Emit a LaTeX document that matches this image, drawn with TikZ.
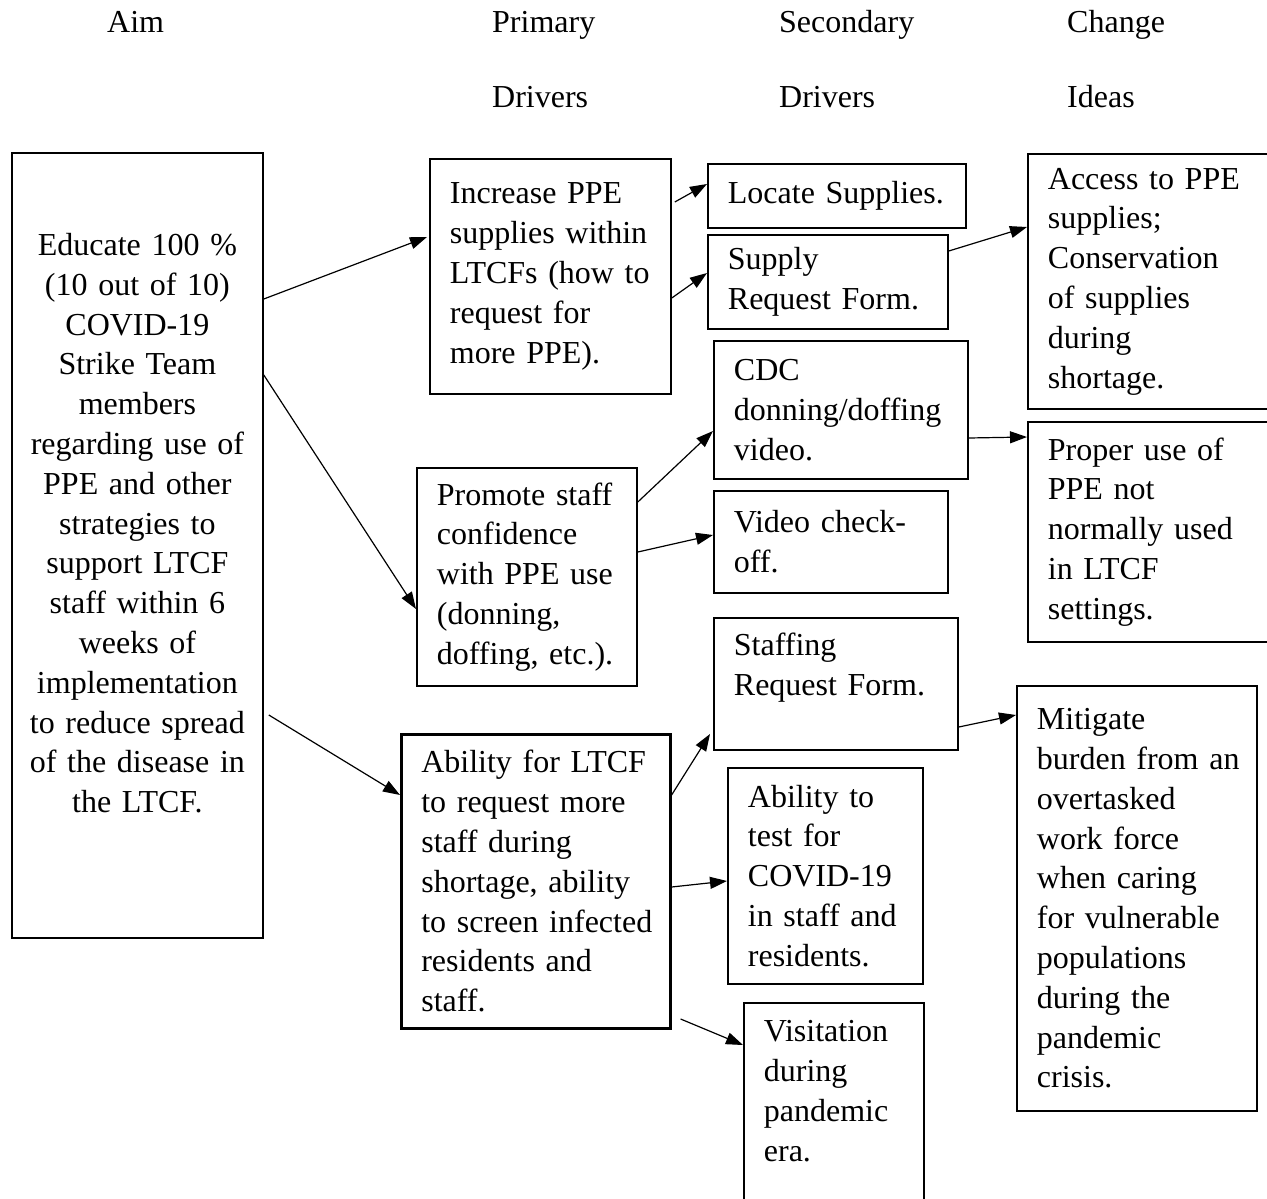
\documentclass[tikz,border=0pt]{standalone}
\usepackage{fontspec}
\setmainfont{Liberation Serif}
\usetikzlibrary{calc,positioning,arrows.meta}

\begin{document}
\begin{tikzpicture}
[x=1pt,y=-1pt,
font=\fontsize{32}{39.8}\selectfont,
head/.style={anchor=base west,inner sep=0pt},
box/.style={draw,line width=1.8pt,rectangle,anchor=north west,
	inner xsep=20pt,inner ysep=0pt,align=left},
arr/.style={-{Triangle[length=17pt,width=12pt]},line width=1.2pt}]

\path[use as bounding box,fill=white] (0,0) rectangle (1267,1199);

% column heads
\node[head] (hAim) at (107,33) {Aim};
\node[head] (hPri) at (492,33) {Primary};
\node[head] (hPriB) at (492,107) {Drivers};
\node[head] (hSec) at (779,33) {Secondary};
\node[head] (hSecB) at (779,107) {Drivers};
\node[head] (hChg) at (1067,33) {Change};
\node[head] (hChgB) at (1067,107) {Ideas};

% aim
\node[box,align=center,inner xsep=8pt,minimum width=251pt,minimum height=785pt,text width=235pt]
	(aim) at (11,152) {Educate 100 \%\\(10 out of 10)\\COVID-19\\Strike Team\\members\\regarding use of\\PPE and other\\strategies to\\support LTCF\\staff within 6\\weeks of\\implementation\\to reduce spread\\of the disease in\\the LTCF.\\[5pt]~};

% primary drivers
\node[box,minimum width=241pt,minimum height=235pt,text width=201pt]
	(incr) at (429,158) {Increase PPE\\supplies within\\LTCFs (how to\\request for\\more PPE).};
\node[box,minimum width=220pt,minimum height=218pt,text width=180pt]
	(promo) at (416,467) {Promote staff\\confidence\\with PPE use\\(donning,\\doffing, etc.).};
\node[box,line width=2.6pt,minimum width=269pt,minimum height=294pt,text width=229pt]
	(abil) at (400,733) {Ability for LTCF\\to request more\\staff during\\shortage, ability\\\mbox{to screen infected}\\residents and\\staff.};

% secondary drivers
\node[box,minimum width=258pt,minimum height=64pt,text width=218pt]
	(locate) at (707,163) {Locate Supplies.};
\node[box,minimum width=240pt,minimum height=94pt,text width=200pt]
	(supply) at (707,234) {Supply\\Request Form.};
\node[box,minimum width=254pt,minimum height=138pt,text width=214pt]
	(cdc) at (713,340) {CDC\\donning/doffing\\video.};
\node[box,minimum width=234pt,minimum height=102pt,text width=194pt]
	(vchk) at (713,490) {Video check-\\off.};
\node[box,minimum width=244pt,minimum height=132pt,text width=204pt]
	(staff) at (713,617) {Staffing\\Request Form.\\~};
\node[box,minimum width=195pt,minimum height=216pt,text width=155pt]
	(test) at (727,767) {Ability to\\test for\\COVID-19\\in staff and\\residents.};
\node[box,minimum width=180pt,minimum height=216pt,text width=140pt]
	(visit) at (743,1002) {Visitation\\during\\pandemic\\era.\\~};

% change ideas
\node[box,minimum width=260pt,minimum height=255pt,text width=220pt]
	(access) at (1027,153) {Access to PPE\\supplies;\\Conservation\\of supplies\\during\\shortage.};
\node[box,minimum width=260pt,minimum height=220pt,text width=220pt]
	(proper) at (1027,421) {Proper use of\\PPE not\\normally used\\in LTCF\\settings.};
\node[box,minimum width=240pt,minimum height=425pt,text width=200pt]
	(mitig) at (1016,685) {Mitigate\\\mbox{burden from an}\\overtasked\\work force\\when caring\\for vulnerable\\populations\\during the\\pandemic\\crisis.};

% arrows
\draw[arr] ($(aim.north east)+(0,147)$) -- ($(incr.north west)+(-2,79)$);
\draw[arr] ($(aim.north east)+(0,223)$) -- ($(promo.north west)+(0,142)$);
\draw[arr] ($(aim.north east)+(5,563)$) -- ($(abil.north west)+(0,62)$);
\draw[arr] ($(incr.north east)+(3,44)$) -- ($(locate.north west)+(0,21)$);
\draw[arr] ($(incr.north east)+(0,140)$) -- ($(supply.north west)+(0,39)$);
\draw[arr] ($(supply.north east)+(0,17)$) -- ($(access.north west)+(0,74)$);
\draw[arr] ($(promo.north east)+(0,35)$) -- ($(cdc.north west)+(0,91)$);
\draw[arr] ($(promo.north east)+(0,85)$) -- ($(vchk.north west)+(0,45)$);
\draw[arr] ($(cdc.north east)+(0,98)$) -- ($(proper.north west)+(0,16)$);
\draw[arr] ($(abil.north east)+(0,62)$) -- ($(staff.north west)+(-3,117)$);
\draw[arr] ($(abil.north east)+(0,154)$) -- ($(test.north west)+(0,114)$);
\draw[arr] ($(abil.north east)+(9,286)$) -- ($(visit.north west)+(0,43)$);
\draw[arr] ($(staff.north east)+(0,110)$) -- ($(mitig.north west)+(0,30)$);

\end{tikzpicture}
\end{document}
